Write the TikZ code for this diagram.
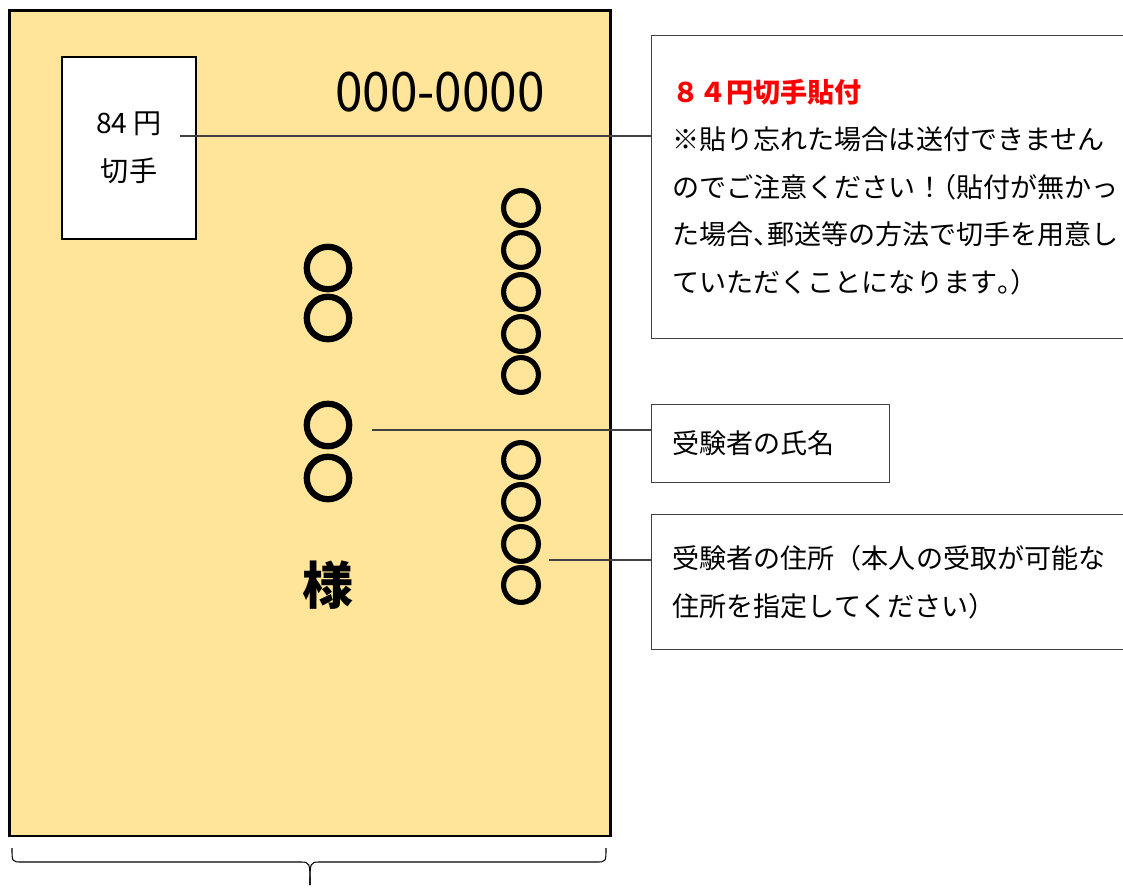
\documentclass[tikz,border=0pt]{standalone}
\usepackage{fontspec}
\setmainfont{Noto Sans CJK JP}
\usetikzlibrary{positioning}

\definecolor{cardyellow}{HTML}{FFE599}
\definecolor{boxgray}{HTML}{404040}
\newcommand{\halfp}[1]{{\addfontfeature{RawFeature=+halt}#1}}

\tikzset{
  callout/.style={draw=boxgray, line width=0.6pt, anchor=north west, align=left, inner xsep=0.42cm, font=\fontsize{15.4}{27}\selectfont},
  leader/.style={draw=boxgray, line width=0.6pt},
  bigmaru/.style={inner sep=0pt, font=\addfontfeature{FakeBold=9}\fontsize{28}{28}\selectfont},
  smallmaru/.style={inner sep=0pt, font=\addfontfeature{FakeBold=9}\fontsize{23}{23}\selectfont},
}

\begin{document}
\begin{tikzpicture}[x=0.02cm, y=-0.02cm]
\useasboundingbox (0,0) rectangle (1123,888);

% postcard
\node[draw, line width=1.5pt, fill=cardyellow, minimum width=12.02cm, minimum height=16.52cm, anchor=north west, inner sep=0pt] (card) at (8,9) {};
\node[draw, fill=white, line width=0.6pt, minimum width=2.68cm, minimum height=3.64cm, align=center, font=\fontsize{16}{27}\selectfont] (stamp) at (129,148) {84 円\\切手};
\node[font=\fontsize{31}{31}\selectfont] (zip) at (440,92) {\scalebox{0.91}[1]{000-0000}};

\foreach \i/\y in {1/268, 2/318, 3/425, 4/478}
  \node[bigmaru] (name\i) at (328,\y) {○};
\node[font=\bfseries\fontsize{29}{29}\selectfont] (sama) at (328,585) {様};
\foreach \i/\y in {1/208, 2/250, 3/292, 4/334, 5/375, 6/460, 7/502, 8/544, 9/585}
  \node[smallmaru] (addr\i) at (521,\y) {○};

% callouts
\node[callout, text width=9.16cm, minimum height=6.06cm] (note) at (651,35)
  {{\color{red}\bfseries ８４円切手貼付}\\
   ※貼り忘れた場合は送付できません\\
   のでご注意ください！\halfp{（}貼付が無かっ\\
   た場合\halfp{、}郵送等の方法で切手を用意し\\
   ていただくことになります\halfp{。}）};
\node[callout, text width=3.92cm, minimum height=1.56cm] (namebox) at (651,404) {受験者の氏名};
\node[callout, text width=9.16cm, minimum height=2.7cm] (addrbox) at (651,514)
  {受験者の住所（本人の受取が可能な\\住所を指定してください）};

\coordinate (stampend) at (180,136);
\draw[leader] (stampend) -- (stampend -| note.west);
\coordinate (nameend) at (372,430);
\draw[leader] (nameend) -- (nameend -| namebox.west);
\coordinate (addrend) at (549,560);
\draw[leader] (addrend) -- (addrend -| addrbox.west);

% brace
\coordinate (bl) at (12,848);
\coordinate (br) at (606,848);
\coordinate (tip) at (310,885);
\draw[line width=0.6pt] (bl) .. controls (12,862) .. (22,862) -- (300,862) .. controls (310,862) .. (tip);
\draw[line width=0.6pt] (br) .. controls (606,862) .. (596,862) -- (320,862) .. controls (310,862) .. (tip);

\end{tikzpicture}
\end{document}
